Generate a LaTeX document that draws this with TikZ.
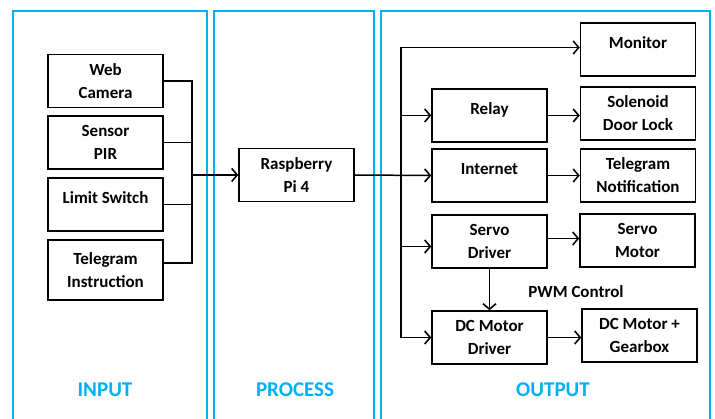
\documentclass[tikz,border=0pt]{standalone}
\usepackage{fontspec}
\setmainfont{Carlito}
\usepackage{tikz}
\usetikzlibrary{arrows.meta}
\definecolor{panelblue}{RGB}{0,176,240}

\begin{document}
\begin{tikzpicture}[x=1pt,y=-1pt]
\tikzstyle{block}=[draw,line width=1.5pt,minimum width=115pt,minimum height=53pt,inner sep=0pt,align=center,font=\fontsize{17}{23}\selectfont\bfseries]
\tikzstyle{panel}=[draw=panelblue,line width=1.6pt]
\tikzstyle{title}=[text=panelblue,font=\fontsize{21}{25}\selectfont\bfseries]
\tikzstyle{wire}=[line width=1.5pt]
\tikzstyle{arr}=[wire,-{Straight Barb[length=5.5pt,width=13pt,line width=1.6pt]}]
\useasboundingbox (0,0) rectangle (715,419);
\draw[panel] (13,430) rectangle (207,11);
\draw[panel] (214,430) rectangle (374,11);
\draw[panel] (381,430) rectangle (710,11);
\node[title] (input) at (105,390) {INPUT};
\node[title] (process) at (295,390) {PROCESS};
\node[title] (output) at (553,390) {OUTPUT};
\foreach \name/\point/\txt in {
	web/{105.5,81}/{Web\\Camera},
	pir/{105.5,142.5}/{Sensor\\PIR},
	limit/{105.5,204.5}/{Limit Switch\\[-9pt]\phantom{X}},
	pi/{296.5,175}/{Raspberry\\Pi 4},
	monitor/{638,49.5}/{Monitor\\[-9pt]\phantom{X}},
	relay/{489.5,115.5}/{Relay\\[-9pt]\phantom{X}},
	solenoid/{638,113.5}/{Solenoid\\Door Lock},
	internet/{489.5,175.5}/{Internet\\[-9pt]\phantom{X}},
	tgnot/{638,175.5}/{Telegram\\Notification},
	sdrv/{489.5,241.5}/{Servo\\Driver},
	smot/{637.5,240.5}/{Servo\\Motor},
	dcdrv/{489.5,337.5}/{DC Motor\\Driver},
	dcgb/{639.5,335.5}/{DC Motor +\\Gearbox}}
	\node[block] (\name) at (\point) {\txt};
\node[block,minimum height=60pt] (tgin) at (105.5,270) {Telegram\\Instruction};
\node[font=\fontsize{17}{23}\selectfont\bfseries] (pwm) at (576,292) {PWM Control};
\coordinate (inbus) at (192,175);
\coordinate (outbus) at (401,175);
\foreach \name in {web,pir,limit}
	\draw[wire] (\name.east) -| (inbus);
\draw[wire] ([yshift=7pt]tgin.east) -| (inbus);
\draw[arr] (inbus) -- (pi.west);
\draw[arr] (pi.east) -- (internet.west);
\draw[arr] (outbus) |- ([yshift=2pt]monitor.west);
\draw[arr] (outbus) |- (relay.west);
\draw[arr] (outbus) |- ([yshift=-5pt]sdrv.west);
\draw[arr] (outbus) |- (dcdrv.west);
\draw[arr] (relay.east) -- (relay.east -| solenoid.west);
\draw[arr] (internet.east) -- (internet.east -| tgnot.west);
\draw[arr] ([yshift=3pt]sdrv.east) -- ([yshift=3pt]sdrv.east -| smot.west);
\draw[arr] (sdrv) -- (dcdrv);
\draw[arr] (dcdrv.east) -- (dcdrv.east -| dcgb.west);
\end{tikzpicture}
\end{document}
